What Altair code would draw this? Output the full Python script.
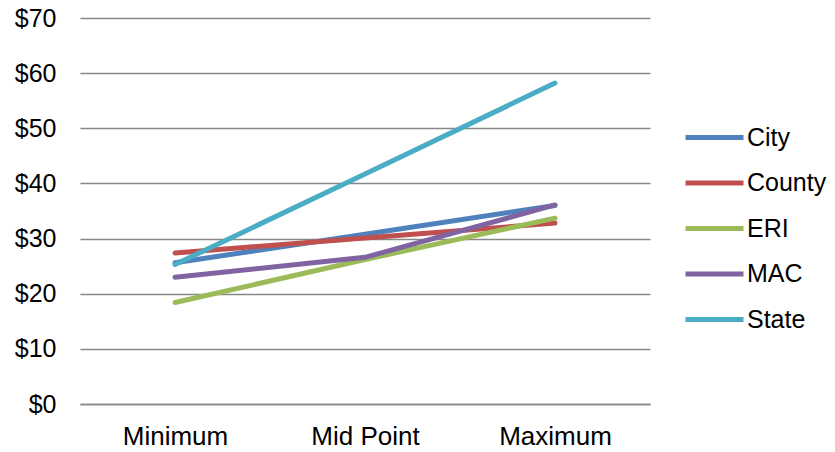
import altair as alt
import pandas as pd

categories = ["Minimum", "Mid Point", "Maximum"]
series = ["City", "County", "ERI", "MAC", "State"]
city = [25.6, 30.8, 36.0]
county = [27.4, 30.1, 32.8]
eri = [18.4, 26.2, 33.7]
mac = [23.0, 26.6, 36.1]
state = [25.3, 41.7, 58.2]
colors = ["#4F81BD", "#C0504D", "#9BBB59", "#8064A2", "#4BACC6"]

rows = []
for name, vals in zip(series, [city, county, eri, mac, state]):
    for c, v in zip(categories, vals):
        rows.append({"cat": c, "series": name, "value": v})
df = pd.DataFrame(rows)

font = "Liberation Sans"

chart = alt.Chart(df).mark_line(strokeWidth=5, strokeCap="round").encode(
    x=alt.X("cat:N", sort=categories, title=None,
            scale=alt.Scale(type="point", padding=0.5),
            axis=alt.Axis(labelAngle=0, ticks=False, domainColor="#888888",
                          domainWidth=1.5, labelFontSize=26, labelFont=font,
                          labelColor="black", labelPadding=19, grid=False)),
    y=alt.Y("value:Q", title=None,
            scale=alt.Scale(domain=[0, 70], nice=False),
            axis=alt.Axis(values=[0, 10, 20, 30, 40, 50, 60, 70], domain=False,
                          ticks=False, labelExpr="'$' + datum.value",
                          labelFontSize=25, labelFont=font, labelColor="black",
                          labelPadding=24, gridColor="#888888", gridWidth=1.5)),
    color=alt.Color("series:N", sort=series,
                    scale=alt.Scale(domain=series, range=colors),
                    legend=alt.Legend(title=None, orient="none", legendX=603, legendY=88,
                                      symbolType="stroke", symbolSize=3364,
                                      symbolStrokeWidth=5, labelFontSize=25,
                                      labelFont=font, labelColor="black",
                                      rowPadding=0.5, labelOffset=1, padding=0)),
    detail="series:N",
).properties(
    width=570, height=386,
    autosize=alt.AutoSizeParams(type="none"),
    padding={"left": 72, "top": 10, "right": 177, "bottom": 50},
).configure_view(stroke=None)

chart.save("out.html", embed_options={"renderer": "svg", "actions": False})
